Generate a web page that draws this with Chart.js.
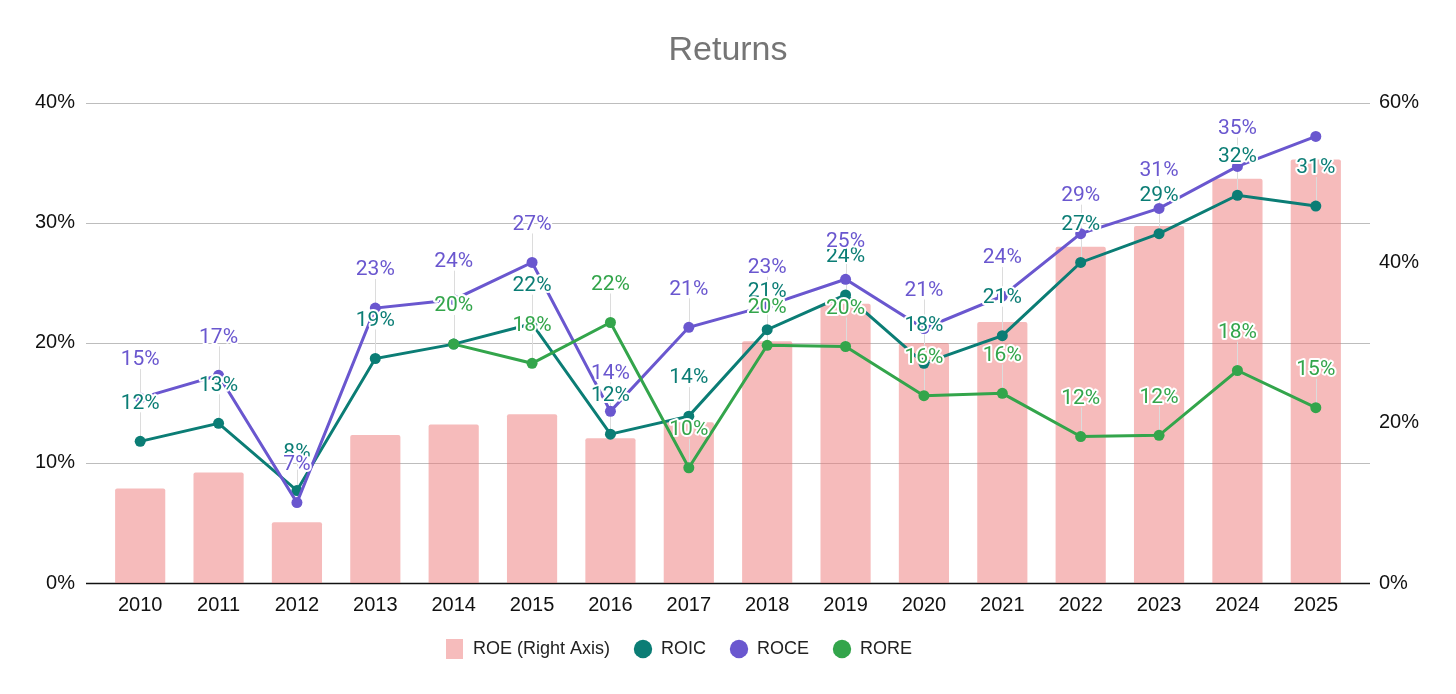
<!DOCTYPE html>
<html>
<head>
<meta charset="utf-8">
<title>Returns</title>
<script src="https://cdn.jsdelivr.net/npm/chart.js@4.4.1/dist/chart.umd.min.js"></script>
<style>
  html, body { margin: 0; padding: 0; background: #fff; }
  #wrap { width: 1456px; height: 694px; }
</style>
</head>
<body>
<div id="wrap"><canvas id="chart"></canvas></div>
<script>
const YEARS = ["2010", "2011", "2012", "2013", "2014", "2015", "2016", "2017",
  "2018", "2019", "2020", "2021", "2022", "2023", "2024", "2025"];

// ROE is plotted against the right axis
const ROE = [11.8, 13.8, 7.6, 18.5, 19.8, 21.1, 18.1, 20.1,
  30.2, 34.9, 30.0, 32.6, 42.0, 44.6, 50.5, 52.9];
const ROIC = [11.8, 13.3, 7.7, 18.7, 19.9, 21.6, 12.4, 13.9,
  21.1, 24.0, 18.3, 20.6, 26.7, 29.1, 32.3, 31.4];
const ROCE = [15.4, 17.3, 6.7, 22.9, 23.6, 26.7, 14.3, 21.3,
  23.1, 25.3, 21.2, 23.9, 29.1, 31.2, 34.7, 37.2];
const RORE = [null, null, null, null, 19.9, 18.3, 21.7, 9.6,
  19.8, 19.7, 15.6, 15.8, 12.2, 12.3, 17.7, 14.6];

const LEFT_MAX = 40;
const LEFT_STEP = 10;
const RIGHT_MAX = 60;
const RIGHT_STEP = 20;

const COLORS = {
  roe: "rgba(238, 120, 120, 0.5)",
  roic: "#0b7d75",
  roce: "#6a57cf",
  rore: "#33a54b",
};

const AXIS_FONT = { family: "'Liberation Sans', Arial, sans-serif", size: 20 };
const LABEL_FONT = "21px Roboto, 'Liberation Sans', sans-serif";
const GRID_OVERHANG = 15;
const LABEL_LIFT = 38;
const LEGEND_SHIFT = 49; // the legend sits a bit left of centre

// legend swatch for the bars: a plain rectangle
function rectSwatch(w, h, color) {
  const c = document.createElement("canvas");
  c.width = w;
  c.height = h;
  const g = c.getContext("2d");
  g.fillStyle = color;
  g.fillRect(0, 0, w, h);
  return c;
}

// horizontal grid lines that reach a little past the plot on both sides
const wideGrid = {
  id: "wideGrid",
  beforeDatasetsDraw(chart) {
    const { ctx, chartArea } = chart;
    const y = chart.scales.y;
    ctx.save();
    y.ticks.forEach((t) => {
      const py = Math.round(y.getPixelForValue(t.value)) + 0.5;
      ctx.beginPath();
      ctx.lineWidth = t.value === 0 ? 1.5 : 1;
      ctx.strokeStyle = t.value === 0 ? "#111" : "#bdbdbd";
      ctx.moveTo(chartArea.left - GRID_OVERHANG, py);
      ctx.lineTo(chartArea.right + GRID_OVERHANG, py);
      ctx.stroke();
    });
    ctx.restore();
  },
};

const legendShift = {
  id: "legendShift",
  afterLayout(chart) {
    chart.legend.left -= LEGEND_SHIFT;
    chart.legend.right -= LEGEND_SHIFT;
  },
};

// value labels above line points, with a thin leader line
const pointLabels = {
  id: "pointLabels",
  _items(chart) {
    const out = [];
    chart.data.datasets.forEach((ds, di) => {
      if (ds.type !== "line") return;
      const meta = chart.getDatasetMeta(di);
      meta.data.forEach((pt, i) => {
        const v = ds.data[i];
        if (v == null) return;
        const cy = pt.y - LABEL_LIFT;
        if (cy - 10 < chart.chartArea.top) return;
        out.push({ x: pt.x, y: pt.y, cy, text: Math.round(v) + "%", color: ds.borderColor });
      });
    });
    return out;
  },
  afterDatasetDraw(chart, args) {
    if (args.index !== 0) return;
    const ctx = chart.ctx;
    ctx.save();
    ctx.strokeStyle = "#dcdcdc";
    ctx.lineWidth = 1;
    this._items(chart).forEach((it) => {
      const x = Math.round(it.x) + 0.5;
      ctx.beginPath();
      ctx.moveTo(x, it.y);
      ctx.lineTo(x, it.cy + 9);
      ctx.stroke();
    });
    ctx.restore();
  },
  afterDatasetsDraw(chart) {
    const ctx = chart.ctx;
    ctx.save();
    ctx.font = LABEL_FONT;
    ctx.textAlign = "center";
    ctx.textBaseline = "middle";
    ctx.lineJoin = "round";
    this._items(chart).forEach((it) => {
      ctx.lineWidth = 4;
      ctx.strokeStyle = "#fff";
      ctx.strokeText(it.text, it.x, it.cy);
      ctx.fillStyle = it.color;
      ctx.fillText(it.text, it.x, it.cy);
    });
    ctx.restore();
  },
};

function lineSet(label, data, color, order) {
  return {
    type: "line",
    label,
    data,
    yAxisID: "y",
    borderColor: color,
    backgroundColor: color,
    borderWidth: 3,
    pointRadius: 5.5,
    pointHoverRadius: 5.5,
    pointBorderWidth: 0,
    pointStyle: "circle",
    tension: 0,
    order,
  };
}

new Chart(document.getElementById("chart"), {
  data: {
    labels: YEARS,
    datasets: [
      {
        type: "bar",
        label: "ROE (Right Axis)",
        data: ROE,
        yAxisID: "y1",
        backgroundColor: COLORS.roe,
        borderRadius: 2,
        borderSkipped: "bottom",
        barPercentage: 0.64,
        categoryPercentage: 1,
        pointStyle: rectSwatch(17, 20, "#f6bcbc"),
        order: 4,
      },
      lineSet("ROIC", ROIC, COLORS.roic, 3),
      lineSet("ROCE", ROCE, COLORS.roce, 2),
      lineSet("RORE", RORE, COLORS.rore, 1),
    ],
  },
  options: {
    responsive: true,
    maintainAspectRatio: false,
    animation: false,
    layout: { padding: { left: 0, right: 0, top: 0, bottom: 26 } },
    plugins: {
      title: {
        display: true,
        text: "Returns",
        color: "#757575",
        font: { family: "'Liberation Sans', Arial, sans-serif", size: 34, weight: "normal" },
        padding: { top: 30, bottom: 32 },
      },
      legend: {
        position: "bottom",
        labels: {
          usePointStyle: true,
          boxWidth: 18,
          boxHeight: 13,
          padding: 24,
          color: "#222",
          font: { family: "'Liberation Sans', Arial, sans-serif", size: 18 },
          sort: (a, b) => a.datasetIndex - b.datasetIndex,
        },
      },
      tooltip: { enabled: false },
    },
    scales: {
      x: {
        grid: { display: false, drawTicks: false },
        border: { display: false },
        ticks: { color: "#111", font: AXIS_FONT, padding: 10, maxRotation: 0 },
        afterFit(scale) { scale.height = 33; },
      },
      y: {
        position: "left",
        min: 0,
        max: LEFT_MAX,
        grid: { display: false, drawTicks: false },
        border: { display: false },
        ticks: {
          stepSize: LEFT_STEP,
          color: "#111",
          font: AXIS_FONT,
          padding: 26,
          callback: (v) => v + "%",
        },
        afterFit(scale) { scale.width = 101; },
      },
      y1: {
        position: "right",
        min: 0,
        max: RIGHT_MAX,
        grid: { display: false, drawTicks: false },
        border: { display: false },
        ticks: {
          stepSize: RIGHT_STEP,
          color: "#111",
          font: AXIS_FONT,
          padding: 24,
          callback: (v) => v + "%",
        },
        afterFit(scale) { scale.width = 101; },
      },
    },
  },
  plugins: [wideGrid, legendShift, pointLabels],
});
</script>
</body>
</html>
